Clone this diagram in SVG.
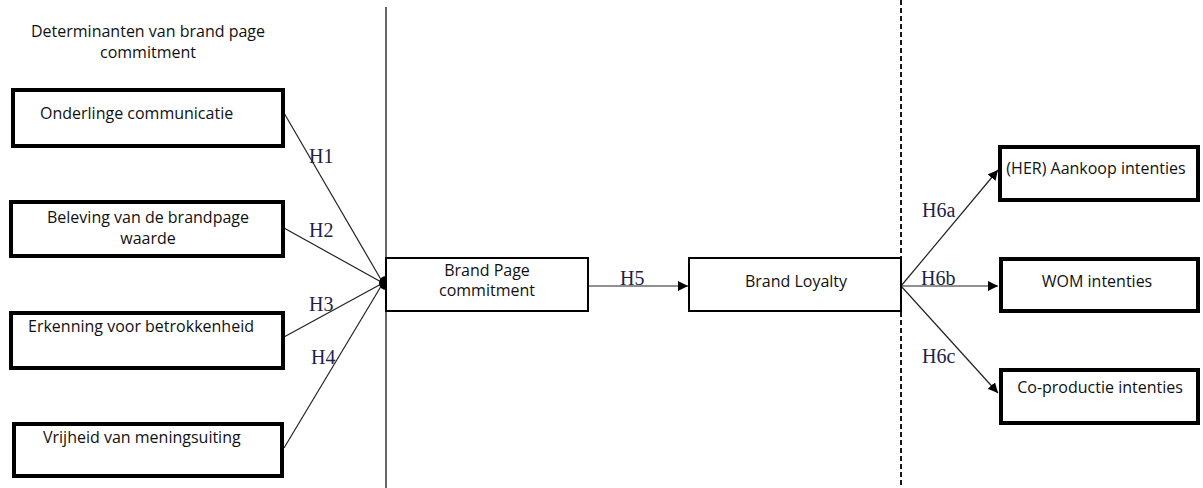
<svg xmlns="http://www.w3.org/2000/svg" width="1203" height="488" viewBox="0 0 1203 488">
<style>
.t{font-family:"Open Sans","Liberation Sans",sans-serif;font-size:16px;fill:#111}
.h{font-family:"Liberation Serif",serif;font-size:20px;fill:#1c2347}
.thick{fill:#fff;stroke:#000;stroke-width:4}
.thin{fill:#fff;stroke:#000;stroke-width:2}
.c{stroke:#222;stroke-width:1.2;fill:none}
</style>
<defs>
<marker id="a" viewBox="0 0 10 10" refX="10" refY="5" markerWidth="10" markerHeight="10" markerUnits="userSpaceOnUse" orient="auto">
<path d="M0,0 L10,5 L0,10 z" fill="#000"/>
</marker>
</defs>
<rect width="1203" height="488" fill="#fff"/>
<line x1="386" y1="7" x2="386" y2="488" stroke="#000" stroke-width="1.2"/>
<line x1="901" y1="0" x2="901" y2="488" stroke="#000" stroke-width="1.8" stroke-dasharray="5,3"/>
<text class="t" x="148" y="37" text-anchor="middle">Determinanten van brand page</text>
<text class="t" x="148" y="58" text-anchor="middle">commitment</text>
<g id="connectors">
<line class="c" x1="284" y1="113" x2="383" y2="283"/>
<line class="c" x1="284" y1="228" x2="383" y2="283"/>
<line class="c" x1="284" y1="337" x2="383" y2="283"/>
<line class="c" x1="284" y1="448" x2="383" y2="283"/>
<path d="M386,276 A7,7 0 0 0 386,290 z" fill="#000"/>
<line class="c" x1="588" y1="286" x2="688" y2="286" marker-end="url(#a)"/>
<line class="c" x1="901" y1="286" x2="998" y2="170" marker-end="url(#a)"/>
<line class="c" x1="901" y1="286" x2="998" y2="286" marker-end="url(#a)"/>
<line class="c" x1="901" y1="286" x2="998" y2="393" marker-end="url(#a)"/>
<text class="h" x="309" y="163">H1</text>
<text class="h" x="309" y="237">H2</text>
<text class="h" x="309" y="311">H3</text>
<text class="h" x="311" y="364">H4</text>
<text class="h" x="620" y="285">H5</text>
<text class="h" x="922" y="217">H6a</text>
<text class="h" x="921" y="285">H6b</text>
<text class="h" x="922" y="363">H6c</text>
</g>
<g id="n1"><rect class="thick" x="13" y="90" width="270" height="56"/><text class="t" x="40" y="119">Onderlinge communicatie</text></g>
<g id="n2"><rect class="thick" x="11" y="202" width="272" height="54"/><text class="t" x="148" y="223" text-anchor="middle">Beleving van de brandpage</text><text class="t" x="148" y="244" text-anchor="middle">waarde</text></g>
<g id="n3"><rect class="thick" x="11" y="313" width="272" height="55"/><text class="t" x="28" y="332">Erkenning voor betrokkenheid</text></g>
<g id="n4"><rect class="thick" x="14" y="424" width="268" height="52"/><text class="t" x="43" y="443">Vrijheid van meningsuiting</text></g>
<g id="n5"><rect class="thin" x="386" y="258" width="202" height="53"/><text class="t" x="487" y="276" text-anchor="middle">Brand Page</text><text class="t" x="487" y="296" text-anchor="middle">commitment</text></g>
<g id="n6"><rect class="thin" x="689" y="258" width="212" height="53"/><text class="t" x="796" y="287" text-anchor="middle">Brand Loyalty</text></g>
<g id="n7"><rect class="thick" x="1000" y="147" width="198" height="53"/><text class="t" x="1096" y="174" text-anchor="middle">(HER) Aankoop intenties</text></g>
<g id="n8"><rect class="thick" x="1001" y="259" width="197" height="52"/><text class="t" x="1097" y="287" text-anchor="middle">WOM intenties</text></g>
<g id="n9"><rect class="thick" x="1001" y="370" width="197" height="53"/><text class="t" x="1100" y="393" text-anchor="middle">Co-productie intenties</text></g>
</svg>
